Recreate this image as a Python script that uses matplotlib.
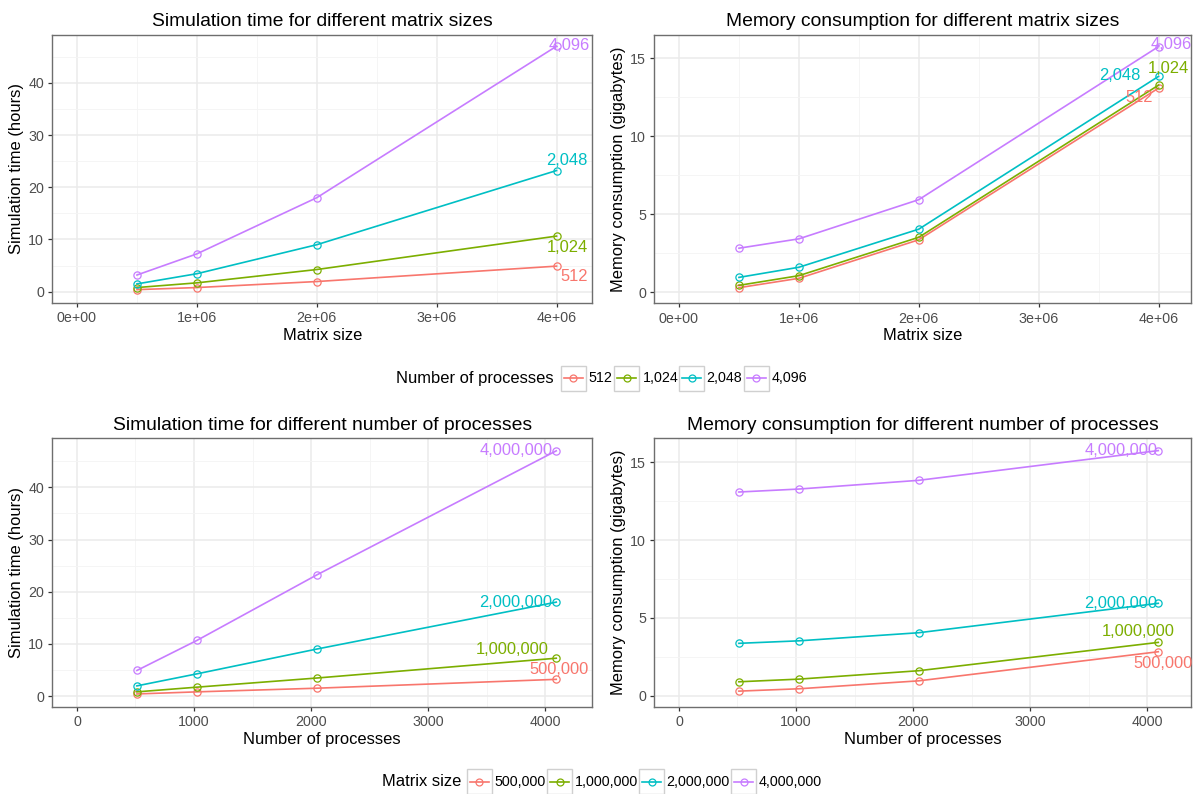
import matplotlib
matplotlib.use('Agg')
import matplotlib.pyplot as plt
from matplotlib.lines import Line2D
from matplotlib.patches import Rectangle
from matplotlib.ticker import MultipleLocator, FuncFormatter
import numpy as np

plt.rcParams['font.family'] = ['Liberation Sans', 'DejaVu Sans']

# data
matrix_sizes = [500000, 1000000, 2000000, 4000000]
processes = [512, 1024, 2048, 4096]
proc_labels = ['512', '1,024', '2,048', '4,096']
size_labels = ['500,000', '1,000,000', '2,000,000', '4,000,000']

# simulation time (hours), one list per number of processes, over matrix sizes
time_p512 = [0.4, 0.8, 1.95, 4.9]
time_p1024 = [0.8, 1.7, 4.25, 10.65]
time_p2048 = [1.5, 3.45, 9.0, 23.2]
time_p4096 = [3.2, 7.25, 18.0, 47.0]

# memory consumption (gigabytes), one list per number of processes
mem_p512 = [0.3, 0.9, 3.37, 13.09]
mem_p1024 = [0.45, 1.07, 3.53, 13.28]
mem_p2048 = [0.96, 1.61, 4.05, 13.84]
mem_p4096 = [2.83, 3.43, 5.94, 15.75]

time_by_proc = np.array([time_p512, time_p1024, time_p2048, time_p4096])
mem_by_proc = np.array([mem_p512, mem_p1024, mem_p2048, mem_p4096])

colors = ['#F8766D', '#7CAE00', '#00BFC4', '#C77CFF']

W, H = 1195, 794
fig = plt.figure(figsize=(W / 100, H / 100), dpi=100)


def px_axes(left, top, right, bottom):
    return fig.add_axes([left / W, 1 - bottom / H, (right - left) / W, (bottom - top) / H])


def style(ax, title, xlabel, ylabel, xmaj, ymaj):
    ax.set_facecolor('white')
    ax.xaxis.set_major_locator(MultipleLocator(xmaj))
    ax.xaxis.set_minor_locator(MultipleLocator(xmaj / 2))
    ax.yaxis.set_major_locator(MultipleLocator(ymaj))
    ax.yaxis.set_minor_locator(MultipleLocator(ymaj / 2))
    ax.grid(which='major', color='#EBEBEB', lw=1.1, zorder=0)
    ax.grid(which='minor', color='#F4F4F4', lw=0.6, zorder=0)
    ax.set_axisbelow(True)
    for s in ax.spines.values():
        s.set_color('#6E6E6E')
        s.set_linewidth(1.0)
    ax.tick_params(which='major', length=3, width=0.9, color='#333333',
                   labelsize=10.3, labelcolor='#4D4D4D', pad=3)
    ax.tick_params(which='minor', length=0)
    ax.set_title(title, fontsize=13.9, pad=6)
    ax.set_xlabel(xlabel, fontsize=11.9, labelpad=2)
    ax.set_ylabel(ylabel, fontsize=11.9, labelpad=3)


def sci(v, pos):
    if v == 0:
        return '0e+00'
    e = int(np.floor(np.log10(abs(v))))
    return '%de+%02d' % (round(v / 10 ** e), e)


def draw(ax, xs, series, labels, offsets):
    for i, ys in enumerate(series):
        ax.plot(xs, ys, color=colors[i], lw=1.2, marker='o', ms=5.2,
                mfc='none', mew=0.9, zorder=3)
        ax.annotate(labels[i], (xs[-1], ys[-1]), xytext=offsets[i],
                    textcoords='offset pixels', ha='right', va='center',
                    color=colors[i], fontsize=11.9, zorder=4)


# top left (label offsets for 512, 1024, 2048, 4096)
ax1 = px_axes(52.3, 34.7, 592.3, 302.7)
draw(ax1, matrix_sizes, time_by_proc, proc_labels,
     [(31, -10), (31, -11), (31, 10), (33, 1)])
ax1.set_xlim(-0.206e6, 4.298e6)
ax1.set_ylim(-2.1, 49.2)
style(ax1, 'Simulation time for different matrix sizes', 'Matrix size',
      'Simulation time (hours)', 1e6, 10)
ax1.xaxis.set_major_formatter(FuncFormatter(sci))

# top right
ax2 = px_axes(654.3, 34.7, 1190.7, 303.3)
draw(ax2, matrix_sizes, mem_by_proc, proc_labels,
     [(-6, -9), (30, 17), (-18, 1), (33, 2)])
ax2.set_xlim(-0.206e6, 4.268e6)
ax2.set_ylim(-0.70, 16.51)
style(ax2, 'Memory consumption for different matrix sizes', 'Matrix size',
      'Memory consumption (gigabytes)', 1e6, 5)
ax2.xaxis.set_major_formatter(FuncFormatter(sci))

# bottom left
ax3 = px_axes(52.3, 438.3, 592.3, 707)
draw(ax3, processes, time_by_proc.T, size_labels,
     [(32, 10), (-8, 9), (-4, 0), (-4, 0)])
ax3.set_xlim(-211, 4404)
ax3.set_ylim(-2.1, 49.4)
style(ax3, 'Simulation time for different number of processes',
      'Number of processes', 'Simulation time (hours)', 1000, 10)

# bottom right
ax4 = px_axes(654.3, 438.3, 1190.7, 707)
draw(ax4, processes, mem_by_proc.T, size_labels,
     [(34, -12), (16, 11), (-1, 0), (-1, 0)])
ax4.set_xlim(-211, 4373)
ax4.set_ylim(-0.72, 16.54)
style(ax4, 'Memory consumption for different number of processes',
      'Number of processes', 'Memory consumption (gigabytes)', 1000, 5)


def legend(title, title_x, y, boxes, text_xs, labels):
    fy = 1 - y / H
    fig.text(title_x / W, fy, title, fontsize=11.9, ha='left', va='center')
    for i, (bx, tx) in enumerate(zip(boxes, text_xs)):
        fig.patches.append(Rectangle((bx / W, (H - y - 12.5) / H), 25 / W, 25 / H,
                                     transform=fig.transFigure, fill=False,
                                     ec='#D0D0D0', lw=1.0))
        fig.lines.append(Line2D([(bx + 3) / W, (bx + 22) / W], [fy, fy],
                                transform=fig.transFigure, color=colors[i], lw=1.2))
        fig.lines.append(Line2D([(bx + 12.5) / W], [fy], transform=fig.transFigure,
                                color=colors[i], marker='o', ms=5, mfc='none', mew=0.9))
        fig.text(tx / W, fy, labels[i], fontsize=10.3, ha='left', va='center')


legend('Number of processes', 396, 378, [560.7, 614.3, 679, 743.7],
       [588.5, 643, 706.5, 771.5], proc_labels)
legend('Matrix size', 381.7, 781.5, [466.7, 547.3, 639.3, 731],
       [494, 575, 666.5, 758.5], size_labels)

fig.savefig('out.png', dpi=100)
